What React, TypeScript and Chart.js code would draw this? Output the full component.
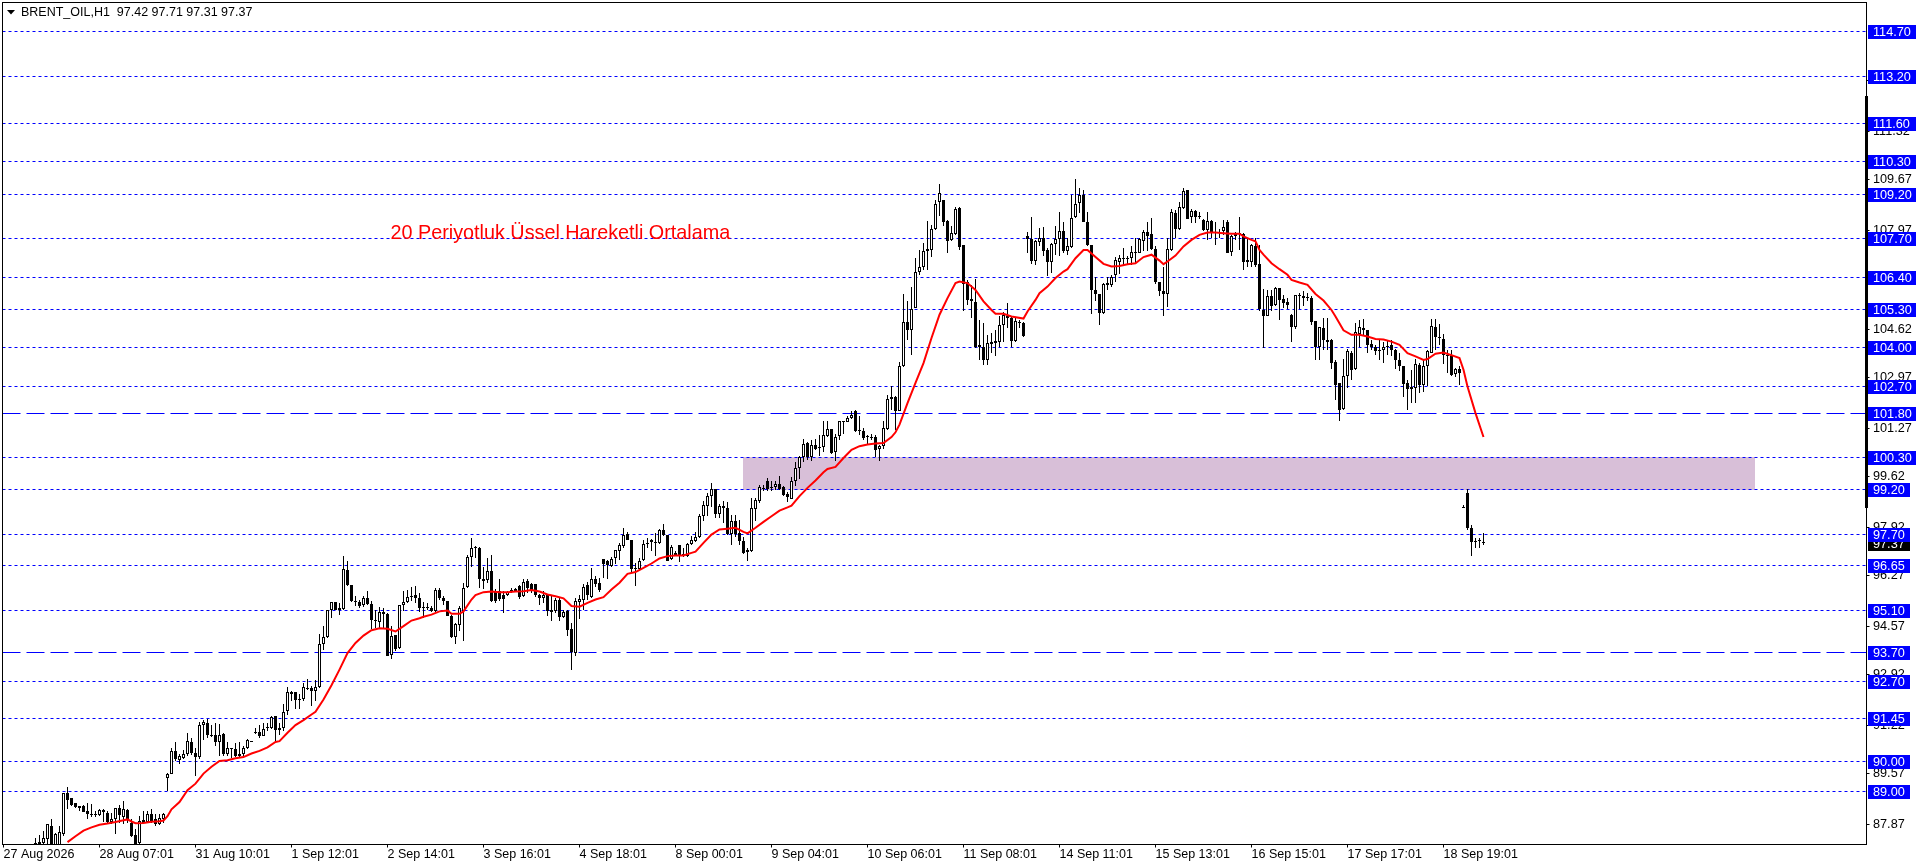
import React, { useEffect, useRef } from "react";
import { Chart, registerables } from "chart.js";

Chart.register(...registerables);

const headerText = "BRENT_OIL,H1  97.42 97.71 97.31 97.37";
const noteText = "20 Periyotluk Üssel Hareketli Ortalama";
const lastPrice = 97.37;

const dateLabels = [
  "27 Aug 2026", "28 Aug 07:01", "31 Aug 10:01", "1 Sep 12:01", "2 Sep 14:01", "3 Sep 16:01",
  "4 Sep 18:01", "8 Sep 00:01", "9 Sep 04:01", "10 Sep 06:01", "11 Sep 08:01", "14 Sep 11:01",
  "15 Sep 13:01", "16 Sep 15:01", "17 Sep 17:01", "18 Sep 19:01",
];
const barsPerDateLabel = 24;

const priceTicks = [113.02, 111.32, 109.67, 107.97, 106.27, 104.62, 102.97, 101.27, 99.62, 97.92, 96.27, 94.57, 92.92, 91.22, 89.57, 87.87];

const dottedLevels = [114.7, 113.2, 111.6, 110.3, 109.2, 107.7, 106.4, 105.3, 104.0, 102.7, 100.3, 99.2, 97.7, 96.65, 95.1, 92.7, 91.45, 90.0, 89.0];
const dashedLevels = [101.8, 93.7];

const zoneBars = [184.9, 437.9];
const zonePrices = [99.17, 100.3];

const firstBar = 8;

const opens = [
  87.24, 87.27, 87.24, 87.37, 87.82, 87.10, 87.15, 87.55, 88.91, 88.74,
  88.58, 88.47, 88.50, 88.33, 88.22, 88.22, 88.17, 88.35, 88.26, 87.95,
  88.03, 88.40, 88.11, 88.35, 87.91, 87.49, 87.24, 88.00, 87.94, 88.22,
  88.05, 87.88, 88.05, 89.44, 89.57, 90.35, 90.03, 90.11, 90.24, 90.65,
  90.28, 90.15, 91.21, 91.30, 90.90, 90.90, 90.64, 90.91, 90.23, 90.45,
  90.42, 90.23, 90.23, 90.43, 90.69, 91.00, 91.00, 90.85, 91.16, 91.13,
  91.52, 91.05, 91.13, 91.69, 92.34, 92.33, 92.11, 92.11, 92.48, 92.48,
  92.37, 92.51, 93.97, 94.20, 95.11, 95.38, 95.19, 95.15, 96.48, 95.96,
  95.43, 95.40, 95.28, 95.53, 95.32, 94.78, 94.72, 95.06, 94.99, 93.58,
  94.28, 93.83, 95.29, 95.38, 95.58, 95.61, 95.51, 95.22, 95.22, 95.19,
  95.08, 95.80, 95.51, 95.43, 94.93, 94.21, 94.61, 95.08, 95.90, 96.91,
  97.24, 97.22, 96.17, 96.13, 96.45, 95.75, 95.75, 95.64, 95.64, 95.81,
  95.84, 95.92, 95.58, 96.11, 95.98, 95.98, 95.61, 95.52, 95.64, 95.10,
  95.07, 95.47, 94.89, 95.08, 94.46, 93.67, 95.40, 95.47, 95.95, 95.56,
  96.17, 96.04, 96.85, 96.77, 96.62, 96.86, 97.11, 97.28, 97.69, 97.49,
  96.54, 96.51, 96.80, 97.39, 97.47, 97.43, 97.38, 97.83, 97.64, 96.85,
  97.05, 97.30, 97.00, 96.96, 97.35, 97.46, 97.59, 98.31, 98.63, 98.97,
  99.21, 98.38, 98.65, 98.56, 97.69, 98.13, 97.72, 97.46, 97.14, 97.10,
  98.54, 98.80, 99.26, 99.48, 99.28, 99.27, 99.38, 99.27, 99.05, 98.88,
  99.47, 99.92, 100.29, 100.77, 100.29, 100.70, 100.63, 100.62, 101.02, 101.24,
  100.45, 100.99, 101.51, 101.48, 101.61, 101.86, 101.22, 101.19, 101.00, 100.98,
  100.98, 100.56, 100.66, 101.25, 102.26, 102.32, 101.86, 103.36, 104.86, 104.58,
  105.35, 106.54, 106.71, 107.25, 107.30, 108.00, 108.91, 109.00, 108.29, 107.64,
  107.85, 108.71, 107.47, 106.23, 105.65, 105.53, 104.00, 104.03, 103.56, 104.17,
  104.22, 104.17, 104.75, 105.07, 104.99, 104.23, 104.86, 104.82, 107.76, 107.68,
  106.94, 107.56, 107.70, 107.30, 106.91, 107.50, 107.67, 107.94, 107.28, 107.39,
  108.40, 108.88, 109.16, 108.25, 107.47, 105.95, 105.82, 105.18, 106.18, 106.12,
  106.46, 106.91, 107.03, 107.03, 107.02, 107.23, 107.21, 107.62, 107.91, 107.83,
  107.34, 106.23, 105.92, 105.81, 107.30, 108.54, 108.01, 108.71, 109.33, 108.40,
  108.61, 108.44, 108.32, 107.98, 108.29, 107.92, 107.92, 107.95, 108.26, 107.23,
  107.85, 107.87, 107.85, 106.97, 106.90, 107.44, 106.82, 105.27, 105.08, 105.75,
  105.43, 106.02, 105.64, 105.53, 105.11, 104.71, 105.78, 105.75, 105.71, 105.67,
  104.90, 104.01, 104.67, 104.26, 104.26, 103.51, 102.80, 101.92, 103.05, 103.83,
  103.27, 104.46, 104.66, 104.58, 104.13, 104.03, 103.92, 103.90, 104.06, 104.09,
  103.92, 103.58, 103.36, 102.80, 102.66, 102.63, 103.42, 102.74, 103.36, 103.83,
  104.71, 104.37, 104.29, 103.75, 103.70, 103.10, 103.28, 98.61, 99.09, 97.89,
  97.44, 97.48, 97.42,
];

const closes = [
  87.20, 87.20, 87.41, 87.86, 87.10, 87.52, 87.61, 88.93, 88.68, 88.51,
  88.44, 88.42, 88.29, 88.20, 88.17, 88.17, 88.35, 88.29, 87.95, 88.05,
  88.40, 88.17, 88.37, 88.05, 87.46, 87.15, 87.97, 87.91, 88.23, 87.97,
  87.88, 88.08, 88.23, 89.55, 90.35, 90.06, 90.16, 90.25, 90.69, 90.28,
  90.14, 91.21, 91.31, 90.88, 90.85, 90.64, 90.90, 90.23, 90.45, 90.42,
  90.17, 90.17, 90.46, 90.71, 90.65, 90.95, 90.85, 91.09, 91.13, 91.51,
  91.04, 91.13, 91.67, 92.34, 92.29, 92.06, 92.07, 92.52, 92.46, 92.37,
  92.51, 93.97, 94.20, 95.10, 95.38, 95.13, 95.12, 96.50, 95.95, 95.41,
  95.38, 95.24, 95.53, 95.33, 94.78, 94.73, 95.06, 94.98, 93.57, 94.24,
  93.78, 95.30, 95.39, 95.56, 95.57, 95.51, 95.19, 95.19, 95.19, 95.07,
  95.80, 95.52, 95.42, 94.93, 94.20, 94.63, 95.20, 95.87, 96.91, 97.22,
  97.20, 96.17, 96.10, 96.45, 95.42, 95.42, 95.49, 95.49, 95.72, 95.75,
  95.75, 95.55, 96.07, 95.87, 95.75, 95.61, 95.51, 95.64, 95.07, 95.05,
  95.47, 94.89, 95.05, 94.43, 93.69, 95.42, 95.49, 95.91, 95.64, 96.17,
  95.98, 95.81, 96.69, 96.63, 96.85, 97.14, 97.32, 97.67, 97.48, 96.51,
  96.51, 96.79, 97.35, 97.35, 97.42, 97.39, 97.83, 97.64, 96.79, 97.24,
  96.98, 96.98, 96.96, 97.35, 97.48, 97.59, 98.31, 98.67, 98.97, 99.21,
  98.37, 98.63, 98.56, 97.69, 98.13, 97.70, 97.44, 97.05, 97.09, 98.57,
  98.85, 99.27, 99.22, 99.22, 99.25, 99.38, 99.22, 99.02, 98.93, 99.48,
  99.92, 100.29, 100.73, 100.29, 100.70, 100.58, 100.60, 101.04, 101.24, 100.43,
  100.97, 101.51, 101.50, 101.61, 101.73, 101.16, 101.16, 100.94, 100.97, 100.93,
  100.52, 100.68, 101.28, 102.27, 102.32, 101.86, 103.39, 104.86, 104.58, 105.30,
  106.57, 106.72, 107.27, 107.33, 108.00, 108.85, 109.22, 108.26, 107.62, 107.87,
  108.69, 107.39, 106.15, 105.61, 105.56, 104.03, 104.09, 103.56, 104.15, 104.11,
  104.15, 104.77, 105.11, 104.99, 104.23, 104.88, 104.82, 104.40, 107.67, 106.94,
  107.59, 107.72, 107.28, 106.91, 107.51, 107.67, 107.94, 107.27, 107.43, 108.38,
  108.85, 109.15, 108.26, 107.47, 105.93, 105.82, 105.16, 106.14, 106.10, 106.37,
  106.97, 107.02, 107.01, 107.01, 107.23, 107.19, 107.68, 107.91, 107.79, 107.33,
  106.20, 105.90, 105.82, 107.33, 108.58, 108.00, 108.74, 109.28, 108.36, 108.61,
  108.43, 108.40, 107.98, 108.29, 107.89, 107.87, 107.87, 108.09, 107.21, 107.76,
  107.78, 107.83, 106.91, 106.88, 107.46, 106.80, 105.30, 105.08, 105.75, 105.41,
  106.02, 105.62, 105.52, 105.44, 104.71, 105.77, 105.73, 105.69, 105.69, 104.85,
  104.03, 104.69, 104.24, 104.20, 103.49, 102.74, 101.89, 103.02, 103.87, 103.25,
  104.51, 104.68, 104.60, 104.07, 104.03, 103.89, 103.87, 104.03, 104.03, 103.92,
  103.56, 103.36, 102.77, 102.59, 102.61, 103.44, 102.72, 103.36, 103.88, 104.72,
  104.37, 104.31, 103.73, 103.70, 103.08, 103.28, 103.13, 98.59, 97.89, 97.41,
  97.42, 97.45, 97.37,
];

const highs = [
  87.41, 87.49, 87.63, 87.88, 88.05, 87.58, 87.80, 88.93, 89.13, 88.74,
  88.59, 88.50, 88.53, 88.57, 88.56, 88.31, 88.37, 88.39, 88.31, 88.25,
  88.42, 88.53, 88.65, 88.37, 88.05, 87.69, 88.16, 88.31, 88.31, 88.39,
  88.20, 88.23, 88.25, 89.61, 90.45, 90.65, 90.23, 90.39, 90.96, 90.79,
  90.45, 91.33, 91.41, 91.44, 91.24, 91.30, 91.27, 90.96, 90.66, 90.45,
  90.60, 90.64, 90.51, 90.75, 90.69, 91.13, 91.24, 91.30, 91.30, 91.54,
  91.54, 91.30, 91.92, 92.51, 92.39, 92.33, 92.28, 92.65, 92.78, 92.54,
  92.74, 94.32, 94.57, 95.10, 95.38, 95.38, 95.35, 96.95, 96.76, 95.96,
  95.58, 95.44, 95.58, 95.75, 95.41, 95.10, 95.22, 95.19, 95.02, 94.57,
  94.28, 95.30, 95.77, 95.81, 95.90, 95.94, 95.69, 95.39, 95.34, 95.25,
  95.87, 95.87, 95.58, 95.43, 94.96, 94.66, 95.25, 96.04, 96.99, 97.56,
  97.28, 97.24, 96.58, 96.88, 96.99, 95.83, 96.15, 95.75, 95.75, 95.87,
  95.87, 95.95, 96.18, 96.15, 96.04, 96.01, 95.67, 95.75, 95.67, 95.58,
  95.53, 95.53, 95.13, 95.10, 94.66, 95.53, 95.64, 96.00, 96.06, 96.54,
  96.26, 96.20, 96.85, 96.82, 96.91, 97.16, 97.39, 97.90, 97.76, 97.50,
  96.71, 96.88, 97.47, 97.56, 97.53, 97.73, 97.87, 98.04, 97.67, 97.33,
  97.11, 97.30, 97.22, 97.39, 97.61, 97.76, 98.35, 98.80, 99.08, 99.42,
  99.21, 98.72, 98.80, 98.76, 98.34, 98.34, 98.15, 97.59, 97.22, 98.89,
  98.91, 99.36, 99.36, 99.58, 99.47, 99.47, 99.66, 99.30, 99.10, 99.62,
  100.12, 100.34, 100.90, 100.81, 100.88, 100.90, 101.05, 101.52, 101.50, 101.25,
  101.08, 101.52, 101.51, 101.69, 101.84, 101.90, 101.69, 101.28, 101.05, 101.07,
  101.05, 100.71, 101.52, 102.40, 102.71, 102.35, 103.50, 105.82, 105.56, 106.06,
  107.02, 107.30, 107.53, 108.29, 108.15, 109.00, 109.54, 109.00, 108.32, 108.12,
  108.75, 108.75, 107.47, 106.29, 106.12, 106.32, 104.94, 104.82, 104.43, 104.49,
  104.60, 105.05, 105.19, 105.52, 105.05, 104.99, 104.94, 104.85, 107.92, 108.43,
  107.64, 108.04, 108.09, 107.36, 107.55, 108.12, 108.60, 108.26, 107.70, 109.16,
  109.69, 109.39, 109.33, 108.60, 107.47, 106.38, 105.82, 106.18, 106.38, 106.46,
  107.06, 107.14, 107.36, 107.10, 107.44, 107.70, 107.72, 107.98, 108.26, 108.38,
  107.42, 106.23, 106.72, 107.70, 108.68, 108.66, 108.94, 109.39, 109.33, 108.68,
  108.66, 108.58, 108.34, 108.60, 108.32, 108.26, 108.00, 108.32, 108.30, 107.81,
  107.92, 108.43, 107.89, 107.70, 107.51, 107.70, 107.47, 105.97, 105.95, 105.93,
  106.04, 106.02, 105.78, 105.67, 105.14, 105.78, 105.86, 105.90, 105.86, 105.75,
  104.91, 104.71, 104.99, 104.99, 104.28, 103.58, 102.80, 103.61, 103.95, 103.87,
  104.82, 104.94, 104.96, 104.60, 104.26, 104.09, 104.26, 104.20, 104.26, 104.24,
  103.94, 103.81, 103.36, 102.91, 103.25, 103.61, 103.49, 103.58, 103.92, 104.97,
  104.97, 104.80, 104.46, 103.92, 103.92, 103.32, 103.36, 98.68, 99.21, 98.01,
  97.55, 97.55, 97.71,
];

const lows = [
  87.10, 87.10, 87.15, 87.10, 87.00, 87.00, 87.10, 87.46, 88.37, 88.50,
  88.42, 88.31, 88.29, 88.03, 88.12, 88.12, 88.14, 87.94, 87.91, 87.86,
  87.55, 87.91, 87.86, 87.91, 87.44, 87.10, 87.10, 87.86, 87.91, 87.91,
  87.80, 87.84, 87.91, 89.00, 89.55, 90.01, 89.92, 90.06, 90.19, 90.21,
  89.49, 90.09, 90.73, 90.79, 90.81, 90.53, 90.17, 90.17, 90.17, 90.11,
  90.15, 90.15, 90.17, 90.42, 90.65, 90.92, 90.79, 90.85, 91.01, 91.10,
  90.68, 90.90, 91.01, 91.58, 92.03, 91.75, 91.75, 92.03, 92.42, 91.86,
  92.03, 92.49, 93.75, 94.16, 94.85, 95.11, 94.96, 95.13, 95.92, 95.38,
  95.24, 95.19, 95.21, 95.30, 94.49, 94.51, 94.51, 94.51, 93.55, 93.47,
  93.72, 93.78, 95.07, 95.35, 95.41, 95.35, 95.05, 94.85, 95.13, 95.04,
  95.05, 95.47, 95.30, 94.91, 94.18, 93.96, 94.40, 94.06, 95.87, 96.58,
  96.88, 95.87, 95.84, 96.04, 95.39, 95.36, 95.42, 95.02, 95.58, 95.70,
  95.73, 95.49, 95.56, 95.70, 95.70, 95.56, 95.30, 95.34, 94.91, 94.76,
  95.02, 94.76, 94.85, 94.23, 93.10, 93.56, 94.80, 95.11, 95.47, 95.53,
  95.90, 95.72, 96.20, 96.18, 96.58, 96.68, 96.82, 97.20, 97.47, 96.37,
  95.92, 96.49, 96.77, 97.20, 97.11, 96.96, 97.35, 97.61, 96.77, 96.82,
  96.96, 96.73, 96.91, 96.91, 97.31, 97.43, 97.56, 98.12, 98.31, 98.61,
  98.23, 98.23, 98.06, 97.67, 97.31, 97.59, 97.31, 97.02, 96.77, 97.07,
  98.14, 98.74, 99.16, 99.13, 99.16, 99.19, 99.19, 98.96, 98.76, 98.87,
  99.32, 99.56, 100.11, 100.18, 100.17, 100.54, 100.34, 100.47, 100.97, 100.41,
  100.15, 100.86, 101.08, 101.47, 101.58, 101.13, 101.03, 100.88, 100.75, 100.88,
  100.29, 100.15, 100.56, 101.22, 101.87, 101.20, 101.84, 103.34, 104.26, 103.73,
  105.33, 106.46, 106.63, 106.63, 107.06, 107.98, 108.45, 108.12, 107.21, 107.62,
  107.81, 107.30, 105.22, 105.44, 104.99, 103.98, 103.56, 103.41, 103.41, 103.81,
  103.70, 104.00, 104.20, 104.66, 104.03, 104.17, 104.66, 104.34, 107.21, 106.82,
  106.80, 107.42, 107.10, 106.42, 106.52, 107.14, 107.11, 107.19, 107.14, 107.36,
  108.38, 108.54, 108.24, 107.44, 105.14, 105.56, 104.75, 105.13, 105.95, 106.06,
  106.23, 106.49, 106.77, 106.80, 106.80, 106.85, 107.19, 107.27, 107.25, 107.30,
  106.15, 105.73, 105.07, 105.37, 107.27, 107.70, 107.98, 108.68, 108.34, 108.21,
  108.21, 108.35, 107.95, 107.64, 107.70, 107.47, 107.70, 107.81, 107.19, 107.11,
  107.64, 107.30, 106.61, 106.74, 106.74, 106.74, 105.22, 103.98, 105.08, 105.25,
  105.41, 104.94, 105.35, 105.31, 104.17, 104.62, 105.30, 105.41, 105.59, 104.75,
  103.56, 103.58, 103.92, 103.92, 103.28, 102.23, 101.50, 101.89, 102.63, 102.91,
  103.25, 104.03, 104.43, 103.81, 103.92, 103.75, 103.58, 103.49, 103.75, 103.72,
  103.28, 103.21, 102.31, 101.87, 102.12, 102.12, 102.46, 102.51, 102.71, 103.81,
  103.92, 104.09, 103.45, 103.13, 103.04, 103.00, 102.74, 98.59, 97.84, 96.93,
  97.20, 97.20, 97.31,
];

const emaBars = [
  16, 18, 20, 22, 24, 26, 28, 30, 31, 32, 33, 35, 37, 39, 40, 41, 42, 44, 46, 48,
  50, 52, 54, 56, 58, 60, 62, 64, 66, 68, 69, 71, 73, 75, 77, 78, 80, 82, 84, 86,
  88, 90, 92, 94, 96, 98, 100, 102, 104, 105, 107, 109, 111, 112, 114, 115, 117, 118, 120, 122,
  124, 126, 128, 130, 132, 134, 136, 138, 140, 142, 144, 146, 148, 150, 152, 154, 156, 158, 160, 162,
  164, 166, 168, 170, 172, 173, 175, 177, 179, 181, 183, 185, 186, 188, 190, 192, 194, 196, 197, 199,
  201, 203, 205, 206, 208, 210, 212, 214, 216, 218, 220, 222, 223, 224, 226, 228, 230, 232, 234, 236,
  238, 239, 241, 243, 245, 247, 248, 250, 252, 255, 256, 258, 259, 261, 263, 265, 266, 268, 270, 271,
  273, 275, 277, 279, 281, 283, 285, 287, 289, 290, 291, 293, 295, 297, 299, 301, 303, 305, 307, 309,
  310, 312, 313, 314, 315, 317, 319, 321, 322, 324, 326, 328, 330, 332, 333, 335, 337, 339, 341, 343,
  345, 347, 349, 351, 353, 355, 356, 358, 360, 362, 364, 365, 366, 368, 370,
];

const emaValues = [
  87.26, 87.46, 87.65, 87.76, 87.85, 87.89, 87.94, 88.00, 88.03, 87.96, 87.90, 87.91, 87.95, 87.97, 87.99, 88.14, 88.37, 88.62, 89.02, 89.24,
  89.58, 89.81, 90.01, 90.03, 90.10, 90.14, 90.26, 90.35, 90.47, 90.65, 90.68, 90.96, 91.22, 91.39, 91.58, 91.67, 92.09, 92.57, 93.10, 93.66,
  94.00, 94.25, 94.43, 94.50, 94.48, 94.39, 94.57, 94.76, 94.84, 94.89, 94.96, 95.07, 95.10, 94.99, 94.99, 95.07, 95.47, 95.62, 95.72, 95.74,
  95.72, 95.72, 95.74, 95.75, 95.79, 95.74, 95.64, 95.58, 95.51, 95.25, 95.23, 95.36, 95.47, 95.55, 95.81, 96.04, 96.34, 96.40, 96.54, 96.69,
  96.86, 96.94, 96.96, 96.96, 97.05, 97.09, 97.39, 97.67, 97.84, 97.87, 97.90, 97.76, 97.71, 97.90, 98.10, 98.29, 98.48, 98.59, 98.65, 98.97,
  99.25, 99.50, 99.78, 99.89, 99.96, 100.26, 100.54, 100.66, 100.72, 100.75, 100.77, 100.97, 101.13, 101.39, 102.12, 102.80, 103.47, 104.32, 105.11, 105.67,
  106.18, 106.23, 106.18, 105.95, 105.56, 105.27, 105.14, 105.14, 105.05, 104.98, 105.22, 105.61, 105.84, 106.06, 106.35, 106.57, 106.65, 107.02, 107.30, 107.30,
  107.06, 106.83, 106.74, 106.76, 106.82, 106.85, 107.06, 107.14, 106.94, 106.82, 106.91, 107.11, 107.42, 107.64, 107.81, 107.89, 107.89, 107.87, 107.85, 107.85,
  107.76, 107.64, 107.59, 107.30, 107.14, 106.85, 106.65, 106.46, 106.29, 106.20, 106.12, 105.81, 105.59, 105.27, 105.05, 104.58, 104.43, 104.43, 104.37, 104.29,
  104.27, 104.20, 104.09, 103.81, 103.70, 103.58, 103.61, 103.79, 103.83, 103.74, 103.64, 103.25, 102.68, 101.78, 100.97,
];

const W = 1916;
const H = 868;
const FAMILY = '"Liberation Sans", Arial, sans-serif';
const BLUE = "#0000ff";
const ZONE = "#d8bfd8";
const RED = "#ff0000";

const row = (y: number) => Math.round(y) + 0.5;

const levelsPlugin = {
  id: "levels",
  beforeDatasetsDraw(chart: any) {
    const { ctx, chartArea, scales } = chart;
    const { x, y } = scales;
    ctx.save();
    ctx.fillStyle = ZONE;
    const zx0 = x.getPixelForValue(zoneBars[0]);
    const zx1 = x.getPixelForValue(zoneBars[1]);
    const zy0 = Math.round(y.getPixelForValue(zonePrices[1]));
    const zy1 = Math.round(y.getPixelForValue(zonePrices[0]));
    ctx.fillRect(Math.round(zx0), zy0, Math.round(zx1 - zx0), zy1 - zy0);
    ctx.strokeStyle = BLUE;
    ctx.lineWidth = 1;
    const line = (v: number, dash: number[]) => {
      const p = row(y.getPixelForValue(v));
      ctx.setLineDash(dash);
      ctx.beginPath();
      ctx.moveTo(chartArea.left, p);
      ctx.lineTo(chartArea.right, p);
      ctx.stroke();
    };
    dottedLevels.forEach((v) => line(v, [3, 3]));
    dashedLevels.forEach((v) => line(v, [18, 6]));
    ctx.restore();

    // keep candles on whole pixels, like the terminal draws them
    chart.data.datasets.forEach((ds: any, idx: number) => {
      if (ds.type !== "bar") return;
      chart.getDatasetMeta(idx).data.forEach((el: any) => {
        const a = Math.round(el.y);
        let b = Math.round(el.base);
        if (a === b) b = a + 1;
        el.y = a;
        el.base = b;
      });
    });
  },
};

const overlayPlugin = {
  id: "overlay",
  afterDraw(chart: any) {
    const { ctx, chartArea, scales } = chart;
    const { y } = scales;
    ctx.save();
    ctx.strokeStyle = "#000";
    ctx.lineWidth = 1;
    ctx.strokeRect(chartArea.left, chartArea.top, chartArea.right - chartArea.left, chartArea.bottom - chartArea.top);
    ctx.fillStyle = "#000";
    ctx.fillRect(1865, 96, 3, 412);

    ctx.beginPath();
    ctx.moveTo(7, 10);
    ctx.lineTo(15, 10);
    ctx.lineTo(11, 14.5);
    ctx.closePath();
    ctx.fill();

    ctx.font = `12.5px ${FAMILY}`;
    ctx.textBaseline = "middle";
    ctx.textAlign = "left";
    ctx.fillStyle = "#000";
    ctx.fillText(headerText, 21, 13);

    ctx.font = `19.8px ${FAMILY}`;
    ctx.textBaseline = "alphabetic";
    ctx.fillStyle = RED;
    ctx.fillText(noteText, 390.5, 239);

    ctx.font = `12.7px ${FAMILY}`;
    ctx.textBaseline = "middle";
    const box = (v: number, bg: string) => {
      const txt = v.toFixed(2);
      const r = Math.round(y.getPixelForValue(v));
      const w = txt.length > 5 ? 48 : 42;
      ctx.fillStyle = bg;
      ctx.fillRect(1868, r - 6, w, 14);
      ctx.fillStyle = "#fff";
      ctx.fillText(txt, 1873, r + 1.5);
    };
    box(lastPrice, "#000");
    [...dottedLevels, ...dashedLevels].forEach((v) => box(v, BLUE));
    ctx.restore();
  },
};

export default function App() {
  const ref = useRef<HTMLCanvasElement>(null);
  useEffect(() => {
    if (!ref.current) return;
    const barIndex = (k: number) => firstBar + k;
    const chart = new Chart(ref.current, {
      type: "bar",
      data: {
        datasets: [
          {
            type: "line",
            label: "EMA 20",
            data: emaBars.map((b, k) => ({ x: b, y: emaValues[k] })),
            borderColor: RED,
            borderWidth: 2,
            pointRadius: 0,
            tension: 0,
            order: 0,
          },
          {
            type: "bar",
            label: "Body",
            data: opens.map((o, k) => ({ x: barIndex(k), y: [o, closes[k]] })),
            backgroundColor: opens.map((o, k) => (closes[k] > o ? "#ffffff" : "#000000")),
            borderColor: "#000000",
            borderWidth: 1,
            borderSkipped: false,
            barThickness: 3,
            grouped: false,
            inflateAmount: 0,
            order: 1,
          },
          {
            type: "bar",
            label: "Range",
            data: highs.map((h, k) => ({ x: barIndex(k), y: [lows[k], h] })),
            backgroundColor: "#000000",
            borderWidth: 0,
            barThickness: 1,
            grouped: false,
            inflateAmount: 0,
            order: 2,
          },
        ] as any,
      },
      options: {
        responsive: false,
        animation: false,
        devicePixelRatio: 1,
        events: [],
        layout: { padding: { left: 2.5, top: 2.5, right: 0, bottom: 0 } },
        plugins: { legend: { display: false }, tooltip: { enabled: false }, title: { display: false } },
        scales: {
          x: {
            type: "linear",
            offset: false,
            min: -0.25,
            max: 465.75,
            grid: { display: true, drawOnChartArea: false, drawTicks: true, tickLength: 3, color: "#000", offset: false },
            border: { display: false },
            afterBuildTicks: (s: any) => {
              s.ticks = dateLabels.map((_, k) => ({ value: k * barsPerDateLabel }));
            },
            afterFit: (s: any) => {
              s.height = H - 844.5;
              s.paddingLeft = 0;
              s.paddingRight = 0;
            },
            ticks: {
              autoSkip: false,
              maxRotation: 0,
              minRotation: 0,
              align: "start",
              padding: 0,
              color: "#000",
              font: { family: FAMILY, size: 12.5 },
              callback: (v: any) => dateLabels[Math.round(Number(v) / barsPerDateLabel)] ?? "",
            },
          },
          y: {
            type: "linear",
            position: "right",
            beginAtZero: false,
            min: 87.181,
            max: 115.675,
            grid: { display: true, drawOnChartArea: false, drawTicks: true, tickLength: 3, color: "#000" },
            border: { display: false },
            afterBuildTicks: (s: any) => {
              s.ticks = priceTicks.map((value) => ({ value }));
            },
            afterFit: (s: any) => {
              s.width = W - 1866.5;
              s.paddingTop = 0;
              s.paddingBottom = 0;
            },
            ticks: {
              autoSkip: false,
              padding: 3.5,
              color: "#000",
              font: { family: FAMILY, size: 12.7 },
              callback: (v: any) => Number(v).toFixed(2),
            },
          },
        },
      } as any,
      plugins: [levelsPlugin, overlayPlugin],
    });
    return () => chart.destroy();
  }, []);
  return (
    <div style={{ position: "fixed", left: 0, top: 0, width: W, height: H, background: "#fff" }}>
      <canvas ref={ref} width={W} height={H} style={{ display: "block", width: W, height: H }} />
    </div>
  );
}
